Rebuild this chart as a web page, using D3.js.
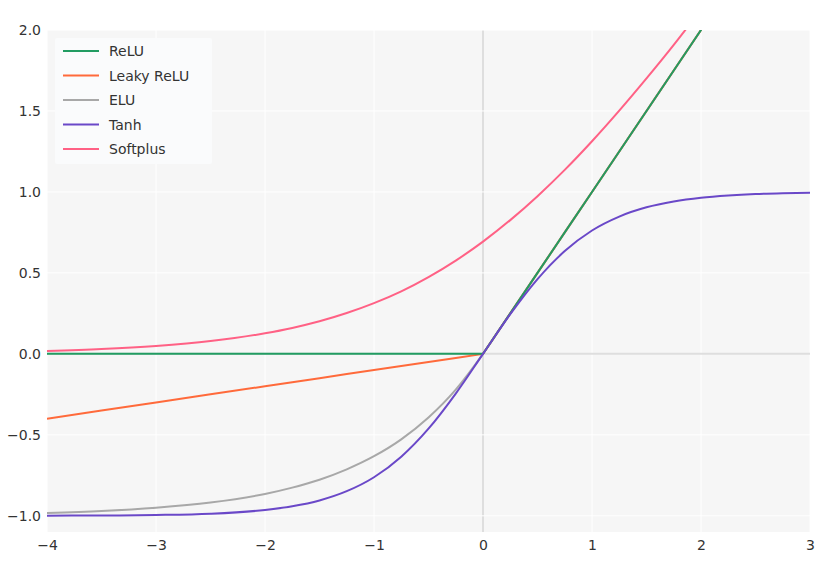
<!DOCTYPE html>
<html><head><meta charset="utf-8">
<script src="https://cdn.jsdelivr.net/npm/d3@7"></script>
<style>body{margin:0;background:#fff}svg{font-family:"DejaVu Sans",sans-serif}</style>
</head><body><svg id="chart" width="820" height="562"></svg>
<script>
"use strict";
// values
const xs = [-4,-3.5,-3,-2.5,-2,-1.75,-1.5,-1.25,-1,-0.75,-0.5,-0.25,0,0.25,0.5,0.75,1,1.25,1.5,1.75,2,2.25,2.5,2.75,3];
const relu = [0,0,0,0,0,0,0,0,0,0,0,0,0,0.25,0.5,0.75,1,1.25,1.5,1.75,2,2.25,2.5,2.75,3];
const leaky = [-0.4,-0.35,-0.3,-0.25,-0.2,-0.175,-0.15,-0.125,-0.1,-0.075,-0.05,-0.025,0,0.25,0.5,0.75,1,1.25,1.5,1.75,2,2.25,2.5,2.75,3];
const elu = [-0.982,-0.97,-0.95,-0.918,-0.865,-0.826,-0.777,-0.713,-0.632,-0.528,-0.393,-0.221,0,0.25,0.5,0.75,1,1.25,1.5,1.75,2,2.25,2.5,2.75,3];
const tanh = [-0.999,-0.998,-0.995,-0.987,-0.964,-0.941,-0.905,-0.848,-0.762,-0.635,-0.462,-0.245,0,0.245,0.462,0.635,0.762,0.848,0.905,0.941,0.964,0.978,0.987,0.992,0.995];
const softplus = [0.018,0.03,0.049,0.079,0.127,0.16,0.201,0.252,0.313,0.386,0.474,0.576,0.693,0.826,0.974,1.136,1.313,1.502,1.701,1.908,2.127,2.352,2.579,2.81,3.049];
const seriesNames = ["ReLU","Leaky ReLU","ELU","Tanh","Softplus"];
const seriesValues = [relu, leaky, elu, tanh, softplus];
const colors = ["#229c62","#ff6a3b","#a8a8a8","#6a48c8","#ff6185"];
const xTicks = [-4,-3,-2,-1,0,1,2,3];
const yTicks = [-1,-0.5,0,0.5,1,1.5,2];

const svg = d3.select("#chart");
const m = {l:47, r:10, t:30, b:30};
const w = 820-m.l-m.r, h = 562-m.t-m.b;
const x = d3.scaleLinear().domain([-4,3]).range([0,w]);
const y = d3.scaleLinear().domain([-1.1,2]).range([h,0]);
const g = svg.append("g").attr("transform", `translate(${m.l},${m.t})`);

g.append("rect").attr("width", w).attr("height", h).attr("fill", "#f6f6f6");
g.append("defs").append("clipPath").attr("id","clip").append("rect").attr("width", w).attr("height", h);

g.selectAll(".gx").data(xTicks).enter().append("line")
  .attr("x1", d => x(d)).attr("x2", d => x(d)).attr("y1", 0).attr("y2", h)
  .attr("stroke", d => d === 0 ? "#dedede" : "#fff").attr("stroke-width", d => d === 0 ? 2 : 1);
g.selectAll(".gy").data(yTicks).enter().append("line")
  .attr("y1", d => y(d)).attr("y2", d => y(d)).attr("x1", 0).attr("x2", w)
  .attr("stroke", d => d === 0 ? "#dedede" : "#fff").attr("stroke-width", d => d === 0 ? 2 : 1);

const fmt = d => (d < 0 ? "\u2212" : "") + Math.abs(d).toFixed(1);
const xAxis = g.append("g").attr("transform", `translate(0,${h})`)
  .call(d3.axisBottom(x).tickValues(xTicks).tickSize(0).tickPadding(8).tickFormat(d => (d < 0 ? "\u2212" : "") + Math.abs(d)));
const yAxis = g.append("g").call(d3.axisLeft(y).tickValues(yTicks).tickSize(0).tickPadding(6).tickFormat(fmt));
[xAxis, yAxis].forEach(a => {
  a.select(".domain").remove();
  a.selectAll("text").attr("font-size", 14).attr("fill", "#333").attr("font-family", "DejaVu Sans");
});

// piecewise-linear series keep their kink at 0
const linear = [true, true, false, false, false];
const order = [2, 1, 0, 3, 4];
const lines = g.append("g").attr("clip-path", "url(#clip)");
order.forEach(k => {
  const line = d3.line().x((d, i) => x(xs[i])).y(d => y(d))
    .curve(linear[k] ? d3.curveLinear : d3.curveMonotoneX);
  lines.append("path").attr("d", line(seriesValues[k])).attr("fill", "none")
    .attr("stroke", colors[k]).attr("stroke-width", 2);
});

const lg = svg.append("g").attr("transform", "translate(55,38)");
lg.append("rect").attr("width", 157).attr("height", 126).attr("fill", "#fafbfc").attr("rx", 2);
seriesNames.forEach((n, i) => {
  const yy = 13 + i * 24.5;
  lg.append("line").attr("x1", 8).attr("x2", 44).attr("y1", yy).attr("y2", yy).attr("stroke", colors[i]).attr("stroke-width", 2);
  lg.append("text").attr("x", 54).attr("y", yy + 5).attr("font-size", 14).attr("fill", "#333").text(n);
});
</script></body></html>
